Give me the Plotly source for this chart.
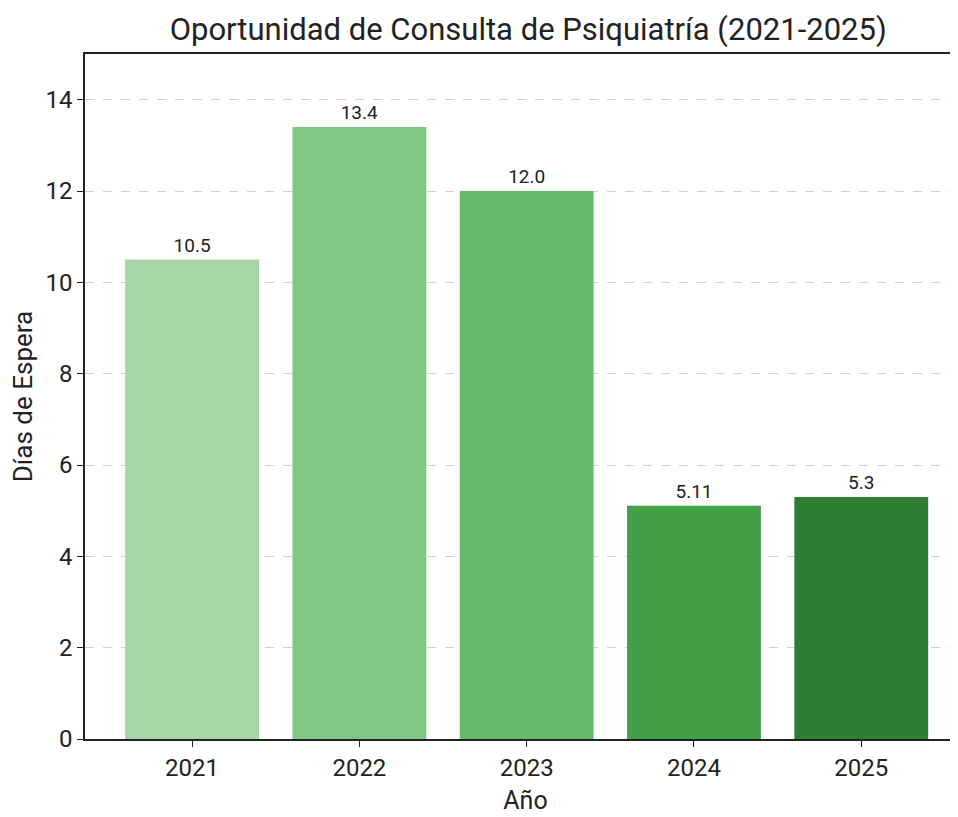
import plotly.graph_objects as go

years = ["2021", "2022", "2023", "2024", "2025"]
dias = [10.5, 13.4, 12.0, 5.11, 5.3]
labels = ["10.5", "13.4", "12.0", "5.11", "5.3"]
colors = ["#a5d6a7", "#81c784", "#66bb6a", "#43a047", "#2e7d32"]
y_ticks = [0, 2, 4, 6, 8, 10, 12, 14]

FONT = "Roboto"

fig = go.Figure(
    go.Bar(
        x=years,
        y=dias,
        text=labels,
        textposition="outside",
        textfont=dict(family=FONT, size=19, color="#222222"),
        marker=dict(color=colors, line=dict(width=0)),
        width=0.8,
        cliponaxis=False,
    )
)

fig.update_layout(
    width=958,
    height=817,
    paper_bgcolor="white",
    plot_bgcolor="white",
    margin=dict(l=77, r=0, t=46, b=86),
    showlegend=False,
    font=dict(family=FONT, color="#222222"),
    title=dict(
        text="Oportunidad de Consulta de Psiquiatría (2021-2025)",
        font=dict(family=FONT, size=31, color="#222222"),
        x=0.543,
        xref="container",
        xanchor="center",
        y=1 - 21 / 817,
        yref="container",
        yanchor="middle",
    ),
    xaxis=dict(
        type="category",
        range=[-0.64, 4.626],
        showline=True,
        linecolor="#222222",
        linewidth=1.5,
        mirror=True,
        ticks="outside",
        ticklen=6,
        tickcolor="#222222",
        tickfont=dict(family=FONT, size=24, color="#222222"),
        showgrid=False,
        title=dict(text="Año", font=dict(family=FONT, size=25, color="#222222"), standoff=11),
    ),
    yaxis=dict(
        range=[0, 15],
        tickvals=y_ticks,
        showline=True,
        linecolor="#222222",
        linewidth=1.5,
        ticks="outside",
        ticklen=6,
        tickcolor="#222222",
        tickfont=dict(family=FONT, size=24, color="#222222"),
        showgrid=True,
        gridcolor="#d2d2d2",
        griddash="dash",
        gridwidth=1,
        zeroline=False,
        title=dict(text="Días de Espera", font=dict(family=FONT, size=26, color="#222222"), standoff=8),
    ),
)

fig.write_html("out.html")
